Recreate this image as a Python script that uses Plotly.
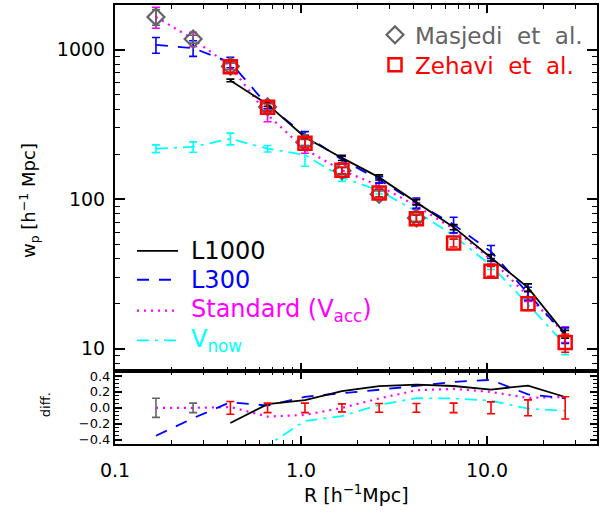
import numpy as np
import plotly.graph_objects as go

# ---------------- data ----------------
R_all = [0.166, 0.263, 0.417, 0.661, 1.05, 1.66, 2.63, 4.17, 6.61, 10.5, 16.6, 26.3]
R_zeh = R_all[2:]
R_mas = R_all[:8]

zehavi = [770, 412, 237, 156, 110, 74, 51, 33, 20, 11]
zehavi_err = [0.08, 0.06, 0.06, 0.05, 0.055, 0.055, 0.06, 0.075, 0.10, 0.14]   # fractional
masjedi = [1660, 1180, 775, 415, 240, 155, 108, 75]
masjedi_err = [0.12, 0.06, 0.05, 0.05, 0.05, 0.05, 0.05, 0.05]

l1000 = [624, 431, 260, 189, 140, 95.5, 65, 40.6, 25.6, 12.5]                      # R_zeh
l1000_err = [0.02, 0.03, 0.03, 0.04, 0.04, 0.04, 0.04, 0.05, 0.06, 0.06]
l300 = [1079, 1027, 824, 424, 270, 184, 135, 94.4, 67.6, 44.6, 23.4, 12.3]        # R_all
l300_err = [0.12, 0.12, 0.08, 0.05, 0.05, 0.05, 0.05, 0.08, 0.12, 0.10, 0.10, 0.12]
standard = [1660, 1180, 778, 367, 216, 156, 123, 90.3, 63.2, 39.6, 22.5, 12.5]    # R_all
standard_err = [0.16, 0.11, 0.10, 0.10, 0.06, 0.05, 0.05, 0.05, 0.06, 0.07, 0.08, 0.12]
vnow = [218, 224, 254, 218, 198, 140, 114, 83, 57, 36, 19.8, 10.6]                 # R_all
vnow_err = [0.06, 0.08, 0.09, 0.05, 0.16, 0.06, 0.05, 0.05, 0.05, 0.06, 0.08, 0.14]

# reference observation for the fractional difference panel
ref_all = np.array(masjedi[:2] + zehavi, dtype=float)
ref_zeh = np.array(zehavi, dtype=float)

FONT = "DejaVu Sans"
GRAY = "#646464"
RED = "#ff0000"
BLUE = "#0000ff"
MAG = "#ff00ff"
CYAN = "#00ffff"

fig = go.Figure()

def errs(vals, frac):
    v = np.array(vals, dtype=float)
    return (v * np.array(frac)).tolist()

def model_trace(x, y, e, color, dash, width=1.8):
    return go.Scatter(
        x=x, y=y, mode="lines", showlegend=False,
        line=dict(color=color, width=width, dash=dash),
        error_y=dict(type="data", array=errs(y, e), color=color, thickness=1.6, width=4),
        xaxis="x", yaxis="y")

fig.add_trace(model_trace(R_all, vnow, vnow_err, CYAN, "12px,6px,3px,6px"))
fig.add_trace(model_trace(R_all, standard, standard_err, MAG, "2px,5px", 2.2))
fig.add_trace(model_trace(R_all, l300, l300_err, BLUE, "12px,10px"))
fig.add_trace(model_trace(R_zeh, l1000, l1000_err, "black", "solid"))

fig.add_trace(go.Scatter(
    x=R_mas, y=masjedi, mode="markers", legend="legend",
    name='<span style="color:%s">Masjedi  et  al.</span>' % GRAY,
    marker=dict(symbol="diamond-open", size=13, color=GRAY, line=dict(width=2.2, color=GRAY)),
    error_y=dict(type="data", array=errs(masjedi, masjedi_err), color=GRAY, thickness=1.6, width=4),
    xaxis="x", yaxis="y"))
fig.add_trace(go.Scatter(
    x=R_zeh, y=zehavi, mode="markers", legend="legend2",
    name='<span style="color:%s">Zehavi  et  al.</span>' % RED,
    marker=dict(symbol="square-open", size=13, color=RED, line=dict(width=2.5, color=RED)),
    error_y=dict(type="data", array=errs(zehavi, zehavi_err), color=RED, thickness=1.6, width=4),
    xaxis="x", yaxis="y"))

# ---------- difference panel ----------
def diff_trace(x, y, ref, color, dash, width=1.8):
    d = (np.array(y, dtype=float) / ref - 1.0).tolist()
    return go.Scatter(x=x, y=d, mode="lines", showlegend=False,
                      line=dict(color=color, width=width, dash=dash),
                      xaxis="x2", yaxis="y2")

fig.add_trace(diff_trace(R_all, vnow, ref_all, CYAN, "12px,6px,3px,6px"))
fig.add_trace(diff_trace(R_all, standard, ref_all, MAG, "2px,5px", 2.2))
fig.add_trace(diff_trace(R_all, l300, ref_all, BLUE, "12px,10px"))
fig.add_trace(diff_trace(R_zeh, l1000, ref_zeh, "black", "solid"))

mas_d = (np.array(masjedi[:2], dtype=float) / np.array(masjedi[:2]) - 1).tolist()
zeh_d = (ref_zeh / ref_zeh - 1).tolist()
fig.add_trace(go.Scatter(x=R_mas[:2], y=mas_d, mode="markers", showlegend=False,
                         marker=dict(size=1, color="rgba(0,0,0,0)"),
                         error_y=dict(type="data", array=masjedi_err[:2], color=GRAY, thickness=1.6, width=4),
                         xaxis="x2", yaxis="y2"))
fig.add_trace(go.Scatter(x=R_zeh, y=zeh_d, mode="markers", showlegend=False,
                         marker=dict(size=1, color="rgba(0,0,0,0)"),
                         error_y=dict(type="data", array=zehavi_err, color=RED, thickness=1.6, width=4),
                         xaxis="x2", yaxis="y2"))

# ---------------- layout ----------------
W, H = 606, 519
ML, MR, MT, MB = 115, 9, 3, 75
pw, ph = W - ML - MR, H - MT - MB
split = (444 - 370.7) / ph

def px2x(px):
    return (px - ML) / pw

def px2y(py):
    return (H - MB - py) / ph

x_minor = [0.2, 0.3, 0.4, 0.5, 0.6, 0.7, 0.8, 0.9, 2, 3, 4, 5, 6, 7, 8, 9, 20, 30]
y_minor = [8, 9, 20, 30, 40, 50, 60, 70, 80, 90, 200, 300, 400, 500, 600, 700, 800, 900, 2000]

axis_common = dict(showline=True, linewidth=2, linecolor="black", mirror="ticks",
                   ticks="inside", tickwidth=1.5, tickcolor="black", showgrid=False,
                   zeroline=False, tickfont=dict(family=FONT, size=19, color="black"))

leg_common = dict(xanchor="left", yanchor="middle", bgcolor="rgba(0,0,0,0)",
                  font=dict(family=FONT, size=23), tracegroupgap=0, itemwidth=30)

fig.update_layout(
    width=W, height=H, margin=dict(l=ML, r=MR, t=MT, b=MB),
    paper_bgcolor="white", plot_bgcolor="white",
    font=dict(family=FONT, color="black"),
    xaxis=dict(type="log", range=[-1, 1.591], domain=[0, 1], anchor="y",
               tickvals=[0.1, 1, 10], showticklabels=False, ticklen=8,
               minor=dict(tickvals=x_minor, ticks="inside", ticklen=4, tickwidth=1.2, tickcolor="black"),
               matches="x2", **axis_common),
    yaxis=dict(type="log", range=[0.85, 3.3], domain=[split, 1], anchor="x",
               tickvals=[10, 100, 1000], ticktext=["10", "100", "1000"], ticklen=10,
               ticklabelstandoff=4,
               minor=dict(tickvals=y_minor, ticks="inside", ticklen=5, tickwidth=1.2, tickcolor="black"),
               **axis_common),
    xaxis2=dict(type="log", range=[-1, 1.591], domain=[0, 1], anchor="y2",
                tickvals=[0.1, 1, 10], ticktext=["0.1", "1.0", "10.0"], ticklen=8,
                ticklabelstandoff=8,
                minor=dict(tickvals=x_minor, ticks="inside", ticklen=4, tickwidth=1.2, tickcolor="black"),
                **axis_common),
    yaxis2=dict(range=[-0.454, 0.4625], domain=[0, split], anchor="x2",
                tickvals=[-0.4, -0.2, 0, 0.2, 0.4],
                ticktext=["\u22120.4", "\u22120.2", "0.0", "0.2", "0.4"], ticklen=7,
                minor=dict(dtick=0.05, ticks="inside", ticklen=4, tickwidth=1.2, tickcolor="black"),
                **{**axis_common, "tickfont": dict(family=FONT, size=13, color="black")}),
    legend=dict(x=px2x(375), y=px2y(33), **leg_common),
    legend2=dict(x=px2x(375), y=px2y(63), **leg_common),
)

ann = []
ann.append(dict(text="w<sub>p</sub> [h<sup>\u22121</sup> Mpc]", x=px2x(29), y=px2y(200),
                xref="paper", yref="paper", showarrow=False, textangle=-90,
                xanchor="center", yanchor="middle",
                font=dict(family=FONT, size=18, color="black")))
ann.append(dict(text="diff.", x=px2x(45), y=px2y(405), xref="paper", yref="paper",
                xanchor="center", yanchor="middle",
                showarrow=False, textangle=-90, font=dict(family=FONT, size=13, color="black")))
ann.append(dict(text="R [h<sup>\u22121</sup>Mpc]", x=px2x(356), y=px2y(494), xref="paper", yref="paper",
                xanchor="center", yanchor="middle",
                showarrow=False, font=dict(family=FONT, size=19, color="black")))

# line-style key (lower left)
key_items = [
    ("L1000", "black", "solid", 250, 1.8),
    ("L300", BLUE, "12px,10px", 279, 1.8),
    ("Standard (V<sub>acc</sub>)", MAG, "2px,5px", 310, 2.2),
    ("V<sub>now</sub>", CYAN, "12px,6px,3px,6px", 340, 1.8),
]
shapes = []
for label, col, dash, ypx, w in key_items:
    shapes.append(dict(type="line", xref="paper", yref="paper",
                       x0=px2x(137), x1=px2x(178), y0=px2y(ypx), y1=px2y(ypx),
                       line=dict(color=col, width=w, dash=dash)))
    ann.append(dict(text=label, x=px2x(189), y=px2y(ypx), xref="paper", yref="paper",
                    xanchor="left", yanchor="middle", showarrow=False,
                    font=dict(family=FONT, size=24, color=col)))

fig.update_layout(annotations=ann, shapes=shapes)

fig.write_html("out.html")
